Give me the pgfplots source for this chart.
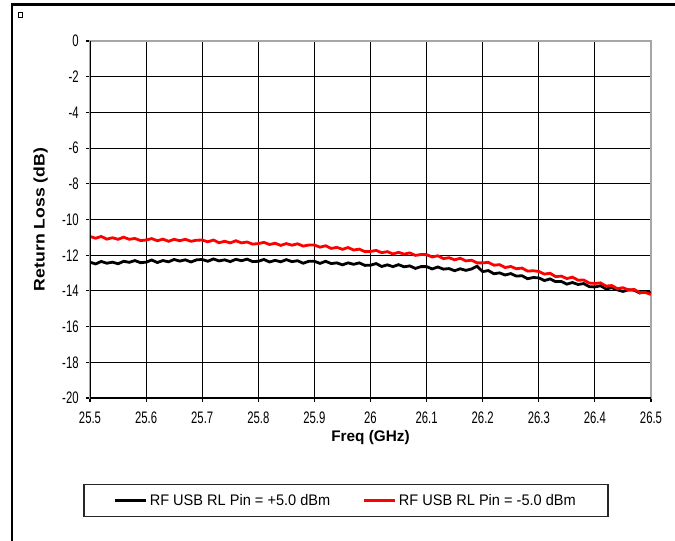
\documentclass[border=0pt]{standalone}
\usepackage{fontspec}
\setmainfont{Liberation Sans}
\newfontfamily\tickfont[FakeStretch=0.68]{Liberation Sans}
\newfontfamily\legfont[FakeStretch=0.95]{Liberation Sans}
\newfontfamily\ylabfont[FakeStretch=1.15]{Liberation Sans}
\usepackage{pgfplots}
\pgfplotsset{compat=1.18}
\begin{document}
\begin{tikzpicture}
\path[use as bounding box] (0,0) rectangle (506.25pt,405pt);
\draw[black, line width=2.2pt] (9pt,-2pt) -- (9pt,401.5pt) -- (508pt,401.5pt);
\draw[line width=0.6pt] (13.5pt,392pt) rectangle (17pt,395.5pt);
\begin{axis}[
  at={(67.5pt,106.5pt)}, anchor=south west,
  scale only axis, width=420.75pt, height=267.75pt,
  xmin=25.5, xmax=26.5, ymin=-20, ymax=0,
  xtick={25.5,25.6,...,26.5},
  xticklabels={25.5,25.6,25.7,25.8,25.9,26,26.1,26.2,26.3,26.4,26.5},
  ytick={-20,-18,...,0},
  yticklabels={-20,-18,-16,-14,-12,-10,-8,-6,-4,-2,0},
  /pgf/number format/assume math mode=true,
  tick label style={font=\tickfont\fontsize{12.5}{13}\selectfont},
  xticklabel style={yshift=-4pt},
  yticklabel style={xshift=-2pt},
  tick pos=left,
  tick align=outside, major tick length=3pt,
  tick style={black, line width=0.8pt},
  grid=major, major grid style={black, line width=0.8pt},
  axis line style={draw=gray!70, line width=1.1pt},
  xlabel={\bfseries Freq (GHz)},
  ylabel={\ylabfont\bfseries Return Loss (dB)},
  label style={font=\fontsize{11.5}{12}\selectfont},
  xlabel style={yshift=2pt},
  ylabel style={yshift=4pt},
  legend columns=2,
  legend style={at={(axis description cs:0.456,-0.287)}, anchor=center,
    draw=black!85, line width=1.2pt, font=\legfont\fontsize{11.5}{12}\selectfont,
    inner xsep=22pt, inner ysep=5pt,
    /tikz/every even column/.append style={column sep=22pt}},
  legend image code/.code={\draw[#1, line width=2.2pt] (0pt,0pt) -- (23.25pt,0pt);},
]
\addplot[black, line width=2.1pt] coordinates {
(25.50,-12.39) (25.51,-12.49) (25.52,-12.35) (25.53,-12.45) (25.54,-12.39) (25.55,-12.48) (25.56,-12.34) (25.57,-12.40) (25.58,-12.30) (25.59,-12.42)
(25.60,-12.39) (25.61,-12.27) (25.62,-12.41) (25.63,-12.30) (25.64,-12.37) (25.65,-12.24) (25.66,-12.33) (25.67,-12.26) (25.68,-12.38) (25.69,-12.26)
(25.70,-12.24) (25.71,-12.34) (25.72,-12.21) (25.73,-12.32) (25.74,-12.26) (25.75,-12.36) (25.76,-12.23) (25.77,-12.31) (25.78,-12.22) (25.79,-12.36)
(25.80,-12.34) (25.81,-12.24) (25.82,-12.38) (25.83,-12.29) (25.84,-12.37) (25.85,-12.25) (25.86,-12.36) (25.87,-12.31) (25.88,-12.45) (25.89,-12.34)
(25.90,-12.34) (25.91,-12.46) (25.92,-12.34) (25.93,-12.47) (25.94,-12.43) (25.95,-12.54) (25.96,-12.43) (25.97,-12.51) (25.98,-12.43) (25.99,-12.57)
(26.00,-12.56) (26.01,-12.47) (26.02,-12.63) (26.03,-12.54) (26.04,-12.64) (26.05,-12.53) (26.06,-12.65) (26.07,-12.60) (26.08,-12.74) (26.09,-12.64)
(26.10,-12.64) (26.11,-12.77) (26.12,-12.66) (26.13,-12.78) (26.14,-12.75) (26.15,-12.87) (26.16,-12.76) (26.17,-12.85) (26.18,-12.77) (26.19,-12.62)
(26.20,-12.92) (26.21,-12.86) (26.22,-13.04) (26.23,-12.99) (26.24,-13.11) (26.25,-13.03) (26.26,-13.17) (26.27,-13.15) (26.28,-13.32) (26.29,-13.25)
(26.30,-13.27) (26.31,-13.42) (26.32,-13.33) (26.33,-13.48) (26.34,-13.47) (26.35,-13.62) (26.36,-13.53) (26.37,-13.64) (26.38,-13.59) (26.39,-13.76)
(26.40,-13.78) (26.41,-13.71) (26.42,-13.89) (26.43,-13.82) (26.44,-13.94) (26.45,-14.03) (26.46,-13.94) (26.47,-13.96) (26.48,-14.12) (26.49,-14.04)
(26.50,-14.12)};
\addlegendentry{RF USB RL Pin = +5.0 dBm}
\addplot[red, line width=2.1pt] coordinates {
(25.50,-10.95) (25.51,-11.05) (25.52,-10.95) (25.53,-11.10) (25.54,-11.02) (25.55,-11.11) (25.56,-10.99) (25.57,-11.11) (25.58,-11.06) (25.59,-11.18)
(25.60,-11.15) (25.61,-11.07) (25.62,-11.19) (25.63,-11.10) (25.64,-11.22) (25.65,-11.11) (25.66,-11.19) (25.67,-11.11) (25.68,-11.22) (25.69,-11.16)
(25.70,-11.15) (25.71,-11.25) (25.72,-11.15) (25.73,-11.30) (25.74,-11.22) (25.75,-11.31) (25.76,-11.19) (25.77,-11.31) (25.78,-11.26) (25.79,-11.38)
(25.80,-11.35) (25.81,-11.28) (25.82,-11.40) (25.83,-11.33) (25.84,-11.45) (25.85,-11.35) (25.86,-11.44) (25.87,-11.36) (25.88,-11.49) (25.89,-11.43)
(25.90,-11.43) (25.91,-11.55) (25.92,-11.47) (25.93,-11.62) (25.94,-11.56) (25.95,-11.67) (25.96,-11.57) (25.97,-11.71) (25.98,-11.66) (25.99,-11.80)
(26.00,-11.79) (26.01,-11.73) (26.02,-11.86) (26.03,-11.80) (26.04,-11.93) (26.05,-11.84) (26.06,-11.94) (26.07,-11.87) (26.08,-12.01) (26.09,-11.96)
(26.10,-11.97) (26.11,-12.10) (26.12,-12.03) (26.13,-12.19) (26.14,-12.14) (26.15,-12.26) (26.16,-12.17) (26.17,-12.32) (26.18,-12.28) (26.19,-12.43)
(26.20,-12.43) (26.21,-12.40) (26.22,-12.56) (26.23,-12.53) (26.24,-12.69) (26.25,-12.63) (26.26,-12.76) (26.27,-12.72) (26.28,-12.89) (26.29,-12.87)
(26.30,-12.91) (26.31,-13.06) (26.32,-13.01) (26.33,-13.20) (26.34,-13.17) (26.35,-13.31) (26.36,-13.23) (26.37,-13.40) (26.38,-13.39) (26.39,-13.56)
(26.40,-13.58) (26.41,-13.55) (26.42,-13.73) (26.43,-13.70) (26.44,-13.87) (26.45,-13.82) (26.46,-13.95) (26.47,-13.92) (26.48,-14.09) (26.49,-14.09)
(26.50,-14.20)};
\addlegendentry{RF USB RL Pin = -5.0 dBm}
\draw[black, line width=1.1pt] (rel axis cs:0,1) -- (rel axis cs:0,0) -- (rel axis cs:1,0);
\end{axis}
\end{tikzpicture}
\end{document}
